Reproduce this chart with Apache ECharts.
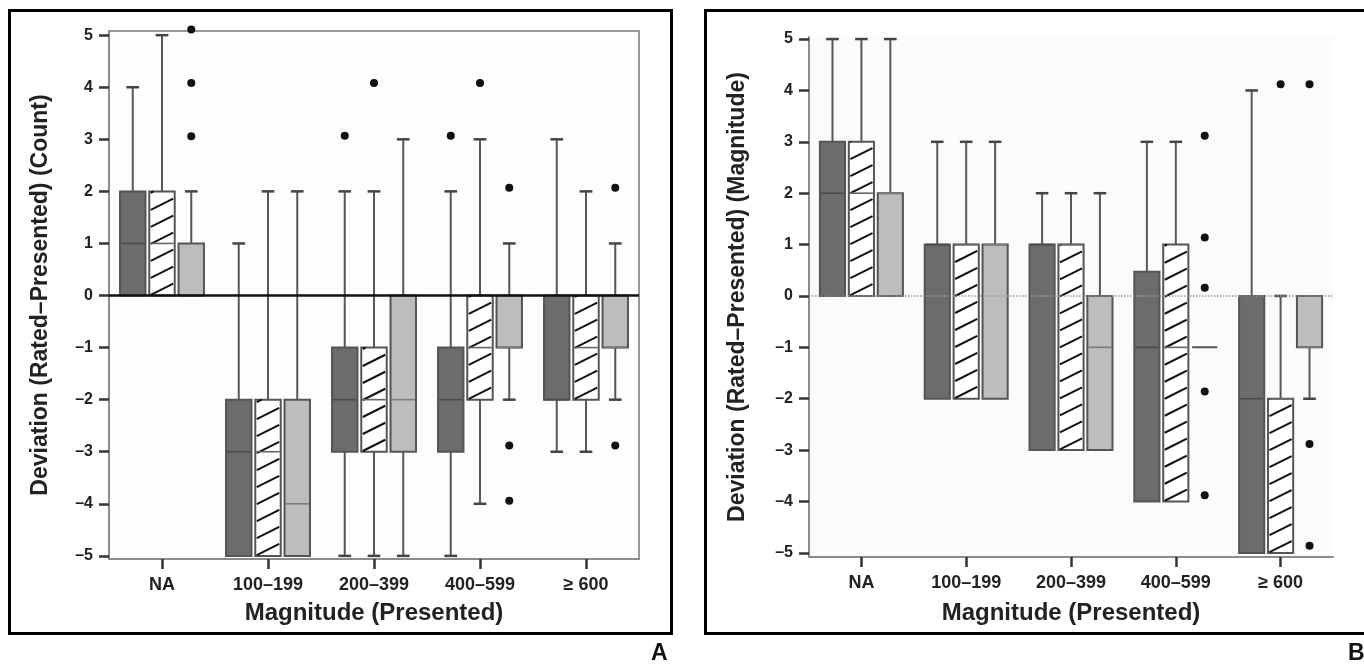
<!DOCTYPE html>
<html lang="en">
<head>
    <meta charset="UTF-8">
    <title>Deviation box plots</title>
    <script src="https://cdn.jsdelivr.net/npm/echarts@6.0.0/dist/echarts.min.js"></script>
</head>
<style>
html,body{margin:0;padding:0;background-color:#fff}
#chartBox{width:1364px;height:664px}
</style>
<body>
    <div id="chartBox"></div>
</body>
<script>
// 类别与刻度
const categories = ['NA', '100–199', '200–399', '400–599', '≥ 600'];
const yTicks = [-5, -4, -3, -2, -1, 0, 1, 2, 3, 4, 5];

// A: 每行 [min, q1, median, q3, max]
const countDark  = [[0, 0, 1, 2, 4], [-5, -5, -3, -2, 1], [-5, -3, -2, -1, 2], [-5, -3, -2, -1, 2], [-3, -2, -2, 0, 3]];
const countHatch = [[0, 0, 1, 2, 5], [-5, -5, -3, -2, 2], [-5, -3, -2, -1, 2], [-4, -2, -1, 0, 3], [-3, -2, -1, 0, 2]];
const countLight = [[0, 0, 0, 1, 2], [-5, -5, -4, -2, 2], [-5, -3, -2, 0, 3], [-2, -1, -1, 0, 1], [-2, -1, -1, 0, 1]];
// 离群点 [类别, 组(0深 1斜线 2浅), 值]
const countOutliers = [[0, 2, 3.06], [0, 2, 4.08], [0, 2, 5.11], [2, 0, 3.07], [2, 1, 4.08], [3, 0, 3.07],
    [3, 1, 4.08], [3, 2, 2.07], [3, 2, -2.88], [3, 2, -3.94], [4, 2, 2.07], [4, 2, -2.88]];

// B
const magDark  = [[0, 0, 2, 3, 5], [-2, -2, 1, 1, 3], [-3, -3, 1, 1, 2], [-4, -4, -1, 0.47, 3], [-5, -5, -2, 0, 4]];
const magHatch = [[0, 0, 2, 3, 5], [-2, -2, 1, 1, 3], [-3, -3, 1, 1, 2], [-4, -4, -1, 1, 3], [-5, -5, -2, -2, 0]];
const magLight = [[0, 0, 2, 2, 5], [-2, -2, 1, 1, 3], [-3, -3, -1, 0, 2], [-1, -1, -1, -1, -1], [-2, -1, -1, 0, 0]];
const magOutliers = [[3, 2, 3.12], [3, 2, 1.14], [3, 2, 0.16], [3, 2, -1.86], [3, 2, -3.88],
    [4, 1, 4.12], [4, 2, 4.12], [4, 2, -2.88], [4, 2, -4.86]];

const FONT = '"Liberation Sans", Arial, Helvetica, sans-serif';
const GROUP_GAP = 0.276;   // 组间距(占类别宽度)
const BOX_WIDTH = 0.24;
const CAP_WIDTH = 0.12;
const FILLS = ['#6c6c6c', '#ffffff', '#bdbdbd'];
const MEDIANS = ['#4a4a4a', '#666666', '#7a7a7a'];

function tickText(v) {
    return v < 0 ? '–' + Math.abs(v) : String(v);
}

// 箱线图绘制
function makeBoxRender(group) {
    return function (params, api) {
        let cat = api.value(0);
        let lo = api.value(1), q1 = api.value(2), med = api.value(3), q3 = api.value(4), hi = api.value(5);
        let band = api.size([1, 0])[0];
        let cx = api.coord([cat, 0])[0] + (group - 1) * band * GROUP_GAP;
        let hw = band * BOX_WIDTH / 2;
        let cw = band * CAP_WIDTH / 2;
        let yLo = api.coord([cat, lo])[1], yQ1 = api.coord([cat, q1])[1];
        let yMed = api.coord([cat, med])[1], yQ3 = api.coord([cat, q3])[1], yHi = api.coord([cat, hi])[1];
        let whisk = {stroke: '#575757', lineWidth: 2};
        let children = [];
        if (hi > q3) {
            children.push({type: 'line', shape: {x1: cx, y1: yQ3, x2: cx, y2: yHi}, style: whisk});
            children.push({type: 'line', shape: {x1: cx - cw, y1: yHi, x2: cx + cw, y2: yHi}, style: {stroke: '#444', lineWidth: 2.5}});
        }
        if (lo < q1) {
            children.push({type: 'line', shape: {x1: cx, y1: yQ1, x2: cx, y2: yLo}, style: whisk});
            children.push({type: 'line', shape: {x1: cx - cw, y1: yLo, x2: cx + cw, y2: yLo}, style: {stroke: '#444', lineWidth: 2.5}});
        }
        let x0 = cx - hw, x1 = cx + hw;
        children.push({
            type: 'rect',
            shape: {x: x0, y: yQ3, width: x1 - x0, height: yQ1 - yQ3},
            style: {fill: FILLS[group], stroke: '#555', lineWidth: 2}
        });
        if (group === 1 && yQ1 - yQ3 > 1) {
            // 斜线填充
            let s = 17, m = 0.5;
            for (let c = yQ1; c >= yQ3; c -= s) {
                let xe = Math.min(x1 - 1.5, x0 + (c - yQ3) / m);
                if (xe <= x0 + 1.5) continue;
                children.push({
                    type: 'line',
                    shape: {x1: x0 + 1.5, y1: c - 0.75, x2: xe, y2: c - m * (xe - x0)},
                    style: {stroke: '#111', lineWidth: 2}
                });
            }
        }
        if (hi > lo) {
            children.push({type: 'line', shape: {x1: x0 + 1, y1: yMed, x2: x1 - 1, y2: yMed}, style: {stroke: MEDIANS[group], lineWidth: 1.6}});
        }
        return {type: 'group', children: children};
    };
}

function renderDot(params, api) {
    let band = api.size([1, 0])[0];
    let p = api.coord([api.value(0), api.value(2)]);
    return {
        type: 'circle',
        shape: {cx: p[0] + (api.value(1) - 1) * band * GROUP_GAP, cy: p[1], r: 4},
        style: {fill: '#111'}
    };
}

function boxSeries(rows, group, axis) {
    return {
        type: 'custom',
        xAxisIndex: axis, yAxisIndex: axis,
        renderItem: makeBoxRender(group),
        encode: {x: 0, y: [1, 2, 3, 4, 5]},
        data: rows.map((r, i) => [i].concat(r)),
        z: 2
    };
}

function yAxisOf(grid, min, max, title, gap) {
    return {
        type: 'value', gridIndex: grid, min: min, max: max,
        name: title, nameLocation: 'middle', nameGap: gap,
        nameTextStyle: {fontFamily: FONT, fontWeight: 'bold', fontSize: 23, color: '#222'},
        splitLine: {show: false},
        axisLine: {show: true, lineStyle: {color: '#8c8c8c', width: 2}},
        axisTick: {show: true, customValues: yTicks, length: 10, lineStyle: {color: '#333', width: 2.5}},
        axisLabel: {customValues: yTicks, formatter: tickText, margin: 16,
            fontFamily: FONT, fontWeight: 'bold', fontSize: 16, color: '#222'}
    };
}

function xAxisOf(grid, gap) {
    return {
        type: 'category', gridIndex: grid, data: categories,
        name: 'Magnitude (Presented)', nameLocation: 'middle', nameGap: gap,
        nameTextStyle: {fontFamily: FONT, fontWeight: 'bold', fontSize: 24, color: '#222'},
        axisLine: {show: true, onZero: false, lineStyle: {color: '#8c8c8c', width: 2}},
        axisTick: {show: true, alignWithLabel: true, length: 10, lineStyle: {color: '#333', width: 2.5}},
        axisLabel: {margin: 17, fontFamily: FONT, fontWeight: 'bold', fontSize: 18, color: '#222'}
    };
}

let chartObj = echarts.init(document.getElementById('chartBox'));
let option = {
    animation: false,
    backgroundColor: '#fff',
    grid: [
        {left: 109, right: 725, top: 31, bottom: 105, show: true, backgroundColor: '#fdfdfd', borderColor: '#999', borderWidth: 2},
        {left: 809, right: 31, top: 37, bottom: 107, show: true, backgroundColor: '#fbfbfb', borderWidth: 0}
    ],
    xAxis: [xAxisOf(0, 42), xAxisOf(1, 44)],
    yAxis: [
        yAxisOf(0, -5.06, 5.08, 'Deviation (Rated–Presented) (Count)', 57),
        yAxisOf(1, -5.08, 5.04, 'Deviation (Rated–Presented) (Magnitude)', 60)
    ],
    graphic: [
        {type: 'rect', shape: {x: 9.5, y: 10.5, width: 662, height: 623}, style: {fill: 'none', stroke: '#000', lineWidth: 3}, z: 10},
        {type: 'rect', shape: {x: 705.5, y: 10.5, width: 662, height: 623}, style: {fill: 'none', stroke: '#000', lineWidth: 3}, z: 10},
        {type: 'text', x: 651, y: 642, style: {text: 'A', fontFamily: FONT, fontWeight: 'bold', fontSize: 23, fill: '#111'}},
        {type: 'text', x: 1348, y: 642, style: {text: 'B', fontFamily: FONT, fontWeight: 'bold', fontSize: 23, fill: '#111'}}
    ],
    series: [
        boxSeries(countDark, 0, 0), boxSeries(countHatch, 1, 0), boxSeries(countLight, 2, 0),
        {
            type: 'custom', xAxisIndex: 0, yAxisIndex: 0, renderItem: renderDot,
            encode: {x: 0, y: 2}, data: countOutliers, z: 6,
            markLine: {silent: true, symbol: 'none', label: {show: false},
                lineStyle: {color: '#111', width: 2.5, type: 'solid'}, data: [{yAxis: 0}]}
        },
        boxSeries(magDark, 0, 1), boxSeries(magHatch, 1, 1), boxSeries(magLight, 2, 1),
        {
            type: 'custom', xAxisIndex: 1, yAxisIndex: 1, renderItem: renderDot,
            encode: {x: 0, y: 2}, data: magOutliers, z: 6,
            markLine: {silent: true, symbol: 'none', label: {show: false},
                lineStyle: {color: '#9a9a9a', width: 1.5, type: 'dotted'}, data: [{yAxis: 0}]}
        }
    ]
};
chartObj.setOption(option);
</script>
</html>
